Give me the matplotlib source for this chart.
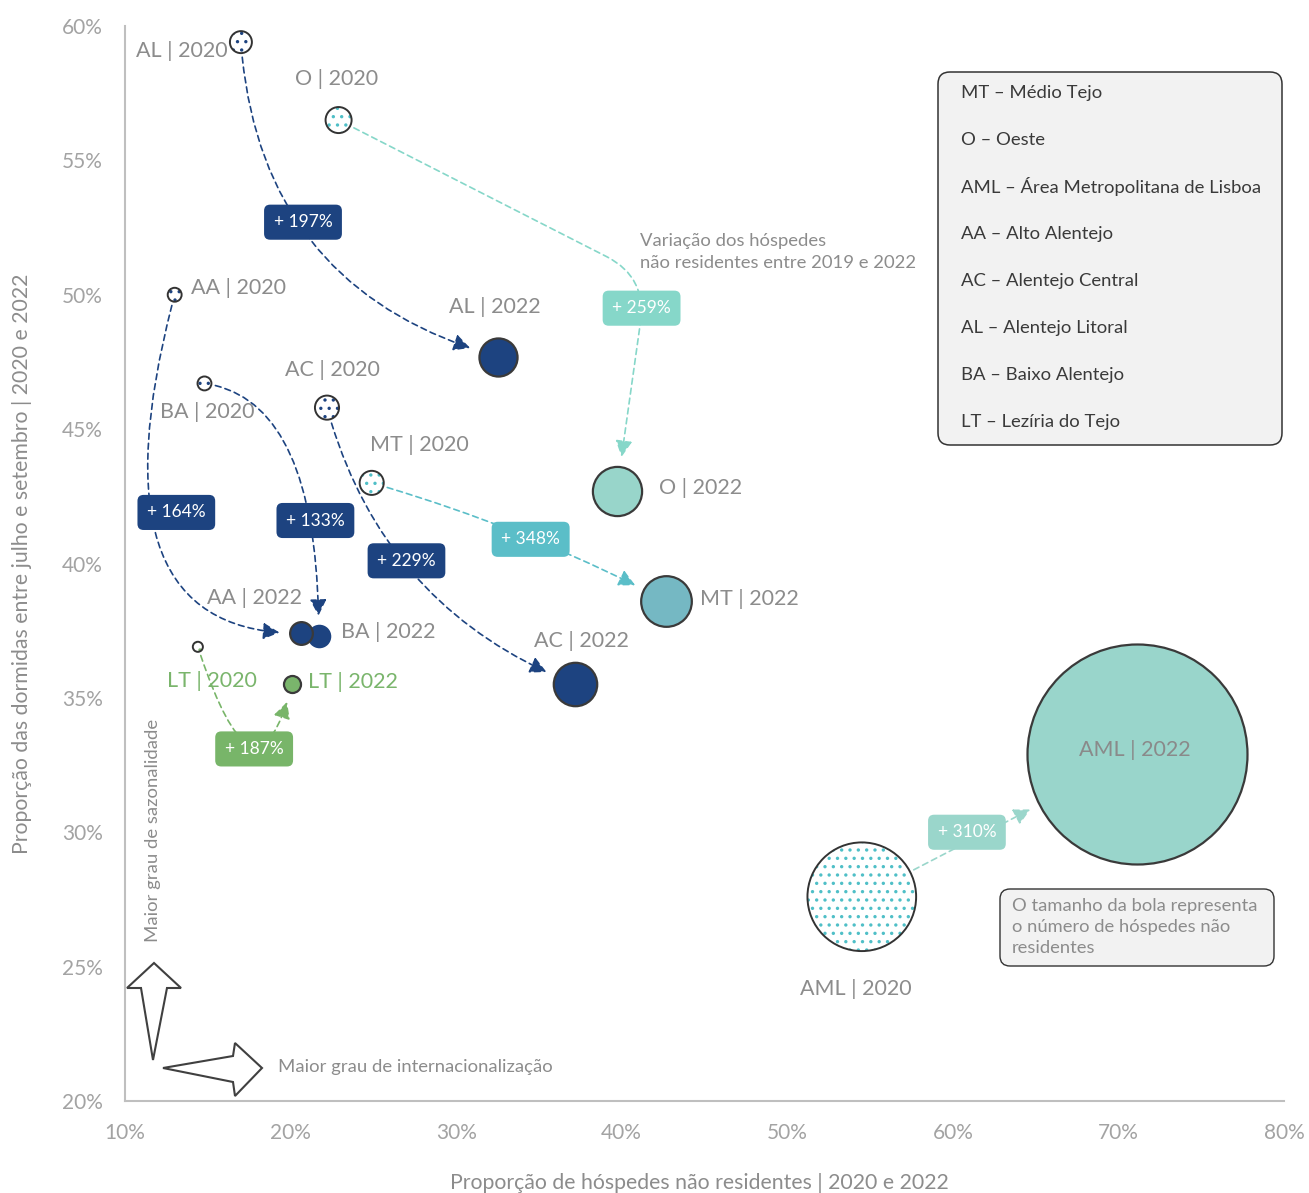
import matplotlib
matplotlib.use("Agg")
import matplotlib.pyplot as plt
from matplotlib.patches import FancyArrowPatch, FancyBboxPatch, Polygon
from matplotlib.transforms import IdentityTransform
import numpy as np

plt.rcParams['font.family'] = ['Lato', 'DejaVu Sans']

# ---------------- data ----------------
regions = ['AL', 'O', 'AA', 'BA', 'AC', 'MT', 'LT', 'AML']
x_2020 = [17.0, 22.9, 13.0, 14.8, 22.2, 24.9, 14.4, 54.5]   # % hóspedes não residentes
y_2020 = [59.4, 56.5, 50.0, 46.7, 45.8, 43.0, 36.9, 27.6]   # % dormidas jul-set
x_2022 = [32.5, 39.7, 20.6, 21.7, 37.2, 42.7, 20.1, 71.1]
y_2022 = [47.7, 42.7, 37.4, 37.3, 35.5, 38.6, 35.5, 32.9]
guests_2020 = [1.0, 1.4, 0.40, 0.40, 1.2, 1.2, 0.21, 24.4]  # relative (AML 2022 = 100)
guests_2022 = [3.0, 5.0, 1.07, 0.94, 3.9, 5.3, 0.60, 100.0]
growth = [197, 259, 164, 133, 229, 348, 187, 310]           # variação 2019-2022 (%)
x_ticks = [10, 20, 30, 40, 50, 60, 70, 80]
y_ticks = [20, 25, 30, 35, 40, 45, 50, 55, 60]
legend_lines = ['MT – Médio Tejo', 'O – Oeste', 'AML – Área Metropolitana de Lisboa',
                'AA – Alto Alentejo', 'AC – Alentejo Central', 'AL – Alentejo Litoral',
                'BA – Baixo Alentejo', 'LT – Lezíria do Tejo']

# ---------------- styles / layout ----------------
W, H = 1309, 1193
DPI = 100
PT = 72 / DPI
dark = '#1d4380'
c2022 = {'AL': dark, 'O': '#98d5ca', 'AA': dark, 'BA': dark, 'AC': dark,
         'MT': '#75b8c3', 'LT': '#7ab56c', 'AML': '#99d5cb'}
cdots = {'AL': dark, 'O': '#4fbfc7', 'AA': dark, 'BA': dark, 'AC': dark,
         'MT': '#4fbfc7', 'LT': '#7ab56c', 'AML': '#4fbfc7'}
carrow = {'AL': dark, 'O': '#86d7c9', 'AA': dark, 'BA': dark, 'AC': dark,
          'MT': '#5bbec8', 'LT': '#78b569', 'AML': '#9ad6cb'}
conn = {'AL': 'arc3,rad=0.35',
        'O': 'angle,angleA=-27,angleB=82,rad=45',
        'AA': 'angle3,angleA=-105,angleB=0',
        'BA': 'angle3,angleA=-8,angleB=90',
        'AC': 'arc3,rad=0.25',
        'MT': 'arc3,rad=-0.05',
        'LT': 'angle3,angleA=-72,angleB=75',
        'AML': 'arc3,rad=0'}
box_pos = {'AL': (20.75, 52.7), 'O': (41.2, 49.5), 'AA': (13.1, 41.9), 'BA': (21.5, 41.6),
           'AC': (27.0, 40.1), 'MT': (34.5, 40.9), 'LT': (17.8, 33.1), 'AML': (60.85, 30.0)}
lab20 = {'AL': (-13, 9, 'right'), 'O': (-2, -41, 'center'), 'AA': (16, -7, 'left'),
         'BA': (3, 29, 'center'), 'AC': (5, -38, 'center'), 'MT': (48, -38, 'center'),
         'LT': (14, 34, 'center'), 'AML': (-6, 92, 'center')}
lab22 = {'AL': (-3, -50, 'center'), 'O': (42, -3, 'left'), 'AA': (-46, -35, 'center'),
         'BA': (22, -4, 'left'), 'AC': (6, -43, 'center'), 'MT': (34, -2, 'left'),
         'LT': (16, -2, 'left'), 'AML': (-2, -4, 'center')}
gray_txt = '#8c8c8c'
green_txt = '#7ab56c'


def radius_px(v):
    return 110 * np.sqrt(v / 100.0)


def size_pt2(v):
    return (2 * radius_px(v) * PT) ** 2


fig = plt.figure(figsize=(W / DPI, H / DPI), dpi=DPI)
ax = fig.add_axes([125 / W, 92 / H, 1159 / W, 1075 / H])
ax.set_xlim(10, 80)
ax.set_ylim(20, 60)
for s in ['top', 'right']:
    ax.spines[s].set_visible(False)
for s in ['left', 'bottom']:
    ax.spines[s].set_color('#bfbfbf')
    ax.spines[s].set_linewidth(1.5)
ax.set_xticks(x_ticks)
ax.set_xticklabels([f'{v}%' for v in x_ticks])
ax.set_yticks(y_ticks)
ax.set_yticklabels([f'{v}%' for v in y_ticks])
ax.tick_params(length=0, labelsize=15, labelcolor='#a3a3a3', pad=16)

# ---------------- arrows ----------------
for i, r in enumerate(regions):
    rA = radius_px(guests_2020[i]) * PT + 3
    rB = radius_px(guests_2022[i]) * PT + 7
    arr = FancyArrowPatch((x_2020[i], y_2020[i]), (x_2022[i], y_2022[i]),
                          arrowstyle='-|>,head_length=0.55,head_width=0.28',
                          connectionstyle=conn[r], shrinkA=rA, shrinkB=rB,
                          mutation_scale=18, color=carrow[r], lw=1.2,
                          linestyle=(0, (3.5, 2.5)), zorder=2, clip_on=False)
    ax.add_patch(arr)

# ---------------- bubbles ----------------
plt.rcParams['hatch.linewidth'] = 1.2
for i, r in enumerate(regions):
    s20 = size_pt2(guests_2020[i])
    ax.scatter([x_2020[i]], [y_2020[i]], s=s20, facecolor='white', edgecolor=cdots[r],
               linewidths=0, hatch='..', zorder=3, clip_on=False)
    ax.scatter([x_2020[i]], [y_2020[i]], s=s20, facecolor='none', edgecolor='#333333',
               linewidths=1.4, zorder=3.1, clip_on=False)

# 2022 bubbles (BA drawn under AA)
draw22 = ['AL', 'O', 'BA', 'AA', 'AC', 'MT', 'LT', 'AML']
for r in draw22:
    i = regions.index(r)
    ec = c2022[r] if r == 'BA' else '#3a3a3a'
    ax.scatter([x_2022[i]], [y_2022[i]], s=size_pt2(guests_2022[i]), facecolor=c2022[r],
               edgecolor=ec, linewidths=1.6, zorder=3.2, clip_on=False)

# ---------------- bubble labels ----------------
for i, r in enumerate(regions):
    col = green_txt if r == 'LT' else gray_txt
    dx, dy, ha = lab20[r]
    ax.annotate(f'{r} | 2020', (x_2020[i], y_2020[i]), xytext=(dx * PT, -dy * PT),
                textcoords='offset points', ha=ha, va='center', fontsize=15.5, color=col,
                zorder=5, annotation_clip=False)
    dx, dy, ha = lab22[r]
    ax.annotate(f'{r} | 2022', (x_2022[i], y_2022[i]), xytext=(dx * PT, -dy * PT),
                textcoords='offset points', ha=ha, va='center', fontsize=15.5,
                color=col if r != 'AML' else '#8a8a8a', zorder=5, annotation_clip=False)

# ---------------- growth boxes ----------------
for i, r in enumerate(regions):
    bx, by = box_pos[r]
    ax.text(bx, by, f'+ {growth[i]}%', ha='center', va='center', fontsize=12.5,
            color='white', zorder=6,
            bbox=dict(boxstyle='round,pad=0.55,rounding_size=0.35', fc=carrow[r], ec='none'))

# ---------------- annotations ----------------
fig.text(640 / W, 1 - 252 / H, 'Variação dos hóspedes\nnão residentes entre 2019 e 2022',
         ha='left', va='center', fontsize=13.3, color=gray_txt, linespacing=1.45)

# legend box
fig.add_artist(FancyBboxPatch((938, H - 445), 344, 373,
                              boxstyle='round,pad=0,rounding_size=12',
                              fc='#f2f2f2', ec='#333333', lw=1.1,
                              transform=IdentityTransform()))
for k, line in enumerate(legend_lines):
    fig.text(961 / W, 1 - (93 + 47 * k) / H, line, ha='left', va='center',
             fontsize=13.3, color='#3a3a3a')

# note box
fig.add_artist(FancyBboxPatch((1000, H - 966), 274, 77,
                              boxstyle='round,pad=0,rounding_size=10',
                              fc='#f2f2f2', ec='#333333', lw=1.0,
                              transform=IdentityTransform()))
fig.text(1012 / W, 1 - 927 / H,
         'O tamanho da bola representa\no número de hóspedes não\nresidentes',
         ha='left', va='center', fontsize=13.2, color=gray_txt, linespacing=1.4)

# direction arrows (outlined block arrows, pixel coordinates)
up_pts = [(153, 1060), (167, 988), (181, 988), (154, 963), (127, 988), (141, 988)]
right_pts = [(163, 1068), (233, 1056), (235, 1043), (262, 1068), (235, 1096), (233, 1082)]
for pts in (up_pts, right_pts):
    fig.add_artist(Polygon([(x, H - y) for x, y in pts], closed=True, fc='white',
                           ec='#404040', lw=1.5, joinstyle='miter',
                           transform=IdentityTransform()))
fig.text(278 / W, 1 - 1067 / H, 'Maior grau de internacionalização', ha='left',
         va='center', fontsize=13.3, color=gray_txt)
fig.text(153 / W, 1 - 942 / H, 'Maior grau de sazonalidade', ha='center', va='bottom',
         rotation=90, fontsize=13.3, color=gray_txt)

# axis titles
fig.text(699 / W, 1 - 1183 / H, 'Proporção de hóspedes não residentes | 2020 e 2022',
         ha='center', va='center', fontsize=15.3, color=gray_txt)
fig.text(22 / W, 1 - 564 / H, 'Proporção das dormidas entre julho e setembro | 2020 e 2022',
         ha='center', va='center', rotation=90, fontsize=15.3, color=gray_txt)

fig.savefig('out.png', dpi=DPI)
